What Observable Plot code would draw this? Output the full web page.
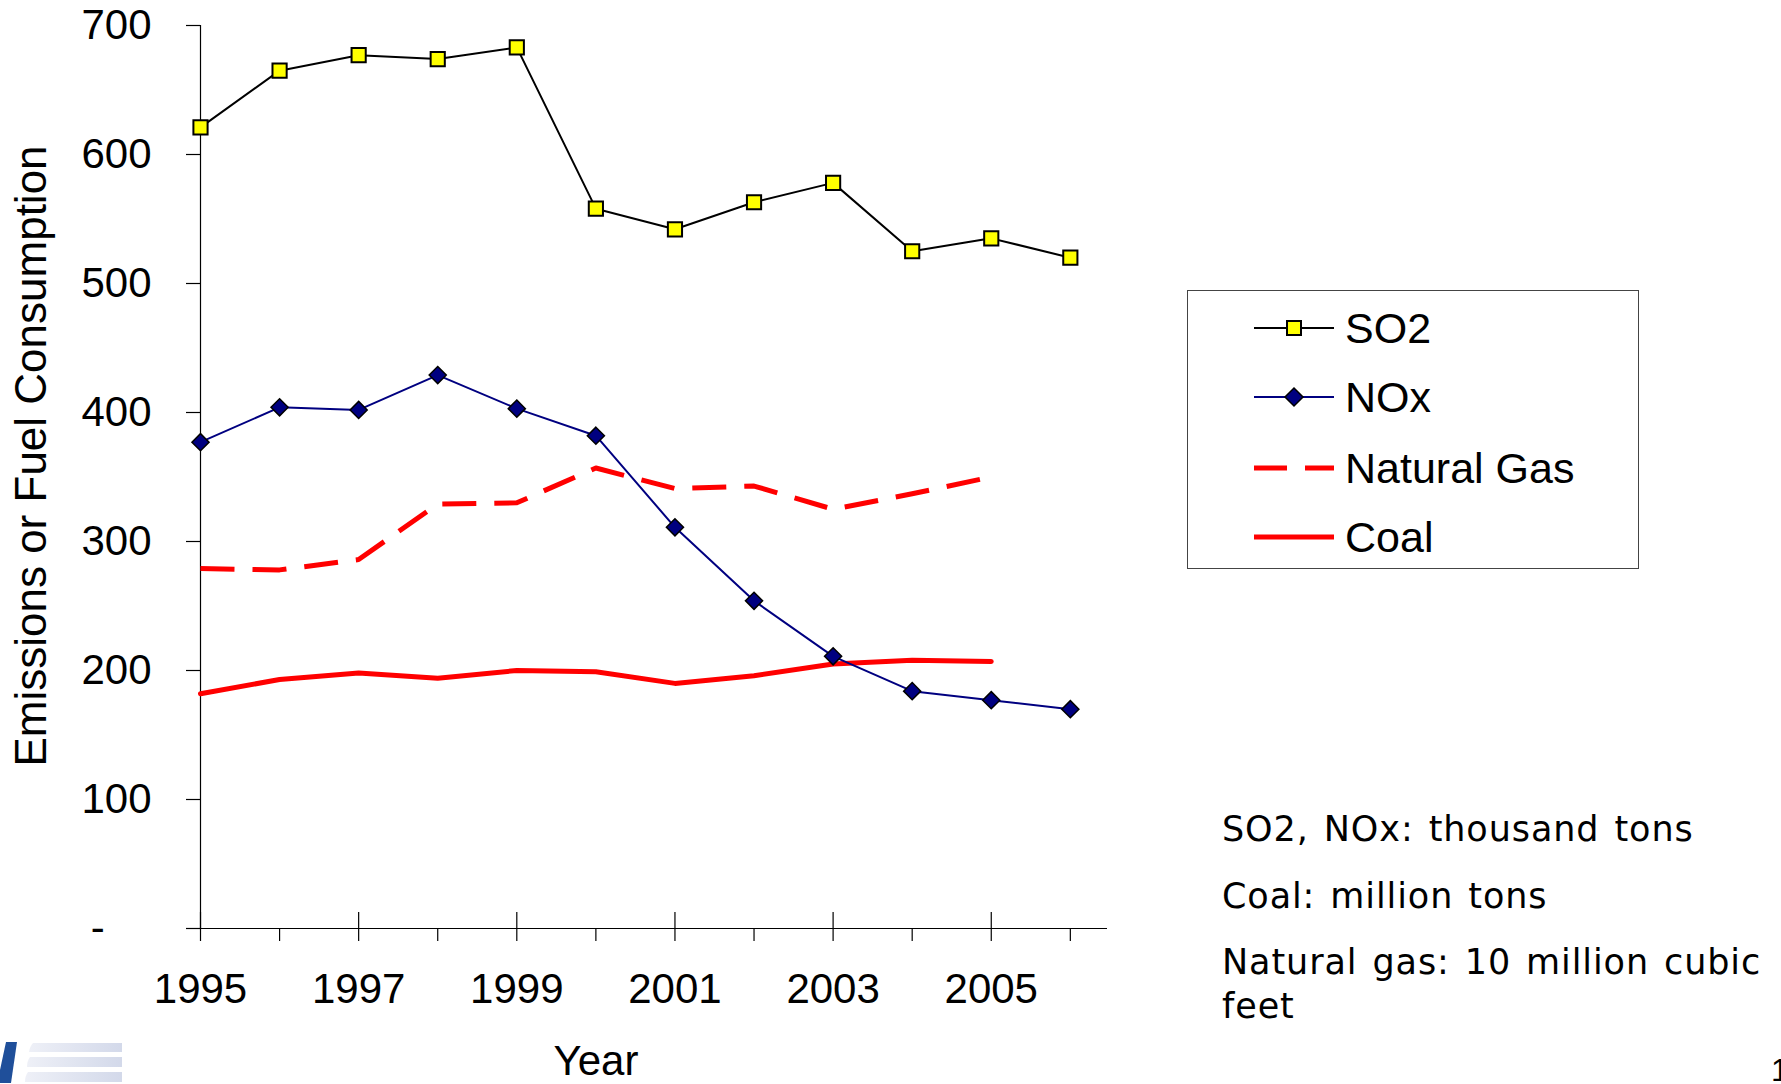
<!DOCTYPE html>
<html>
<head>
<meta charset="utf-8">
<script src="https://cdn.jsdelivr.net/npm/d3@7"></script>
<script src="https://cdn.jsdelivr.net/npm/@observablehq/plot@0.6"></script>
<style>
  html, body { margin: 0; padding: 0; background: #fff; }
  #wrap { position: relative; width: 1781px; height: 1084px; overflow: hidden; background: #fff; font-family: "Liberation Sans", Arial, sans-serif; }
  #chart { position: absolute; left: 0; top: 0; }
  #legend { position: absolute; left: 1187px; top: 290px; width: 452px; height: 279px; box-sizing: border-box; border: 1.5px solid #444; background: #fff; }
  .lg-row { position: absolute; left: 0; height: 50px; display: flex; align-items: center; }
  .lg-row svg { position: absolute; left: 66px; }
  .lg-row span { position: absolute; left: 157px; font-size: 43px; white-space: nowrap; color: #000; line-height: 50px; }
  .note { position: absolute; left: 1222px; font-family: "DejaVu Sans", sans-serif; font-size: 35px; letter-spacing: 0.9px; word-spacing: 3px; line-height: 40px; color: #000; white-space: nowrap; }
  #pagenum { position: absolute; left: 1771px; top: 1052px; font-size: 32px; line-height: 36px; color: #000; }
  #logo { position: absolute; left: 0; top: 1040px; }
</style>
</head>
<body>
<div id="wrap">
  <div id="chart"></div>
  <div id="legend"></div>
  <div id="notes"></div>
  <svg id="logo" width="130" height="44" viewBox="0 0 130 44">
    <defs>
      <linearGradient id="lg" x1="0" x2="1" y1="0" y2="0">
        <stop offset="0" stop-color="#eef0f7"/>
        <stop offset="1" stop-color="#d3d9ea"/>
      </linearGradient>
    </defs>
    <polygon points="6,2 17,2 11,43 0,43 0,30" fill="#1f4f9a"/>
    <path d="M33,3 L122,3 L122,12 L29,12 Q30,6 33,3 Z" fill="url(#lg)"/>
    <path d="M30,17 L122,17 L122,27 L27,27 Q27,21 30,17 Z" fill="url(#lg)"/>
    <path d="M28,32 L122,32 L122,42 L25,42 Q25,36 28,32 Z" fill="url(#lg)"/>
  </svg>
  <div id="pagenum">1</div>
</div>
<script>
// ---- data ----
const years = [1995, 1996, 1997, 1998, 1999, 2000, 2001, 2002, 2003, 2004, 2005, 2006];
const so2 = [621, 665, 677, 674, 683, 558, 542, 563, 578, 525, 535, 520];
const nox = [377, 404, 402, 429, 403, 382, 311, 254, 211, 184, 177, 170];
const gasYears = [1995, 1996, 1997, 1998, 1999, 2000, 2001, 2002, 2003, 2004, 2005];
const naturalGas = [279, 278, 286, 329, 330, 357, 341, 343, 325, 337, 350];
const coal = [182, 193, 198, 194, 200, 199, 190, 196, 205, 208, 207];
const yTicks = [0, 100, 200, 300, 400, 500, 600, 700];
const seriesNames = ["SO2", "NOx", "Natural Gas", "Coal"];
const notes = ["SO2, NOx: thousand tons", "Coal: million tons", "Natural gas: 10 million cubic", "feet"];
const yLabel = "Emissions or Fuel Consumption";
const xLabel = "Year";

// ---- tables ----
const so2Data = years.map((y, i) => ({year: y, value: so2[i]}));
const noxData = years.map((y, i) => ({year: y, value: nox[i]}));
const gasData = gasYears.map((y, i) => ({year: y, value: naturalGas[i]}));
const coalData = gasYears.map((y, i) => ({year: y, value: coal[i]}));
const oddYears = years.filter(y => y % 2 === 1);

const chart = Plot.plot({
  width: 1781,
  height: 1084,
  marginLeft: 200,
  marginRight: 674,
  marginTop: 25,
  marginBottom: 156,
  x: {domain: [1995, 2006.47]},
  y: {domain: [0, 700]},
  style: {fontFamily: "'Liberation Sans', Arial, sans-serif", fontSize: "42px", color: "#000", background: "transparent", overflow: "visible"},
  marks: [
    Plot.ruleY([0], {stroke: "#000", strokeWidth: 1.2}),
    Plot.ruleX([years[0]], {stroke: "#000", strokeWidth: 1.2}),
    Plot.axisY({ticks: yTicks, tickSize: 14, tickPadding: 35, tickFormat: d => d === 0 ? "-\u00a0\u00a0\u00a0\u00a0" : `${d}`, label: null, strokeWidth: 1.2}),
    Plot.axisX({ticks: years, tickSize: 13, tickPadding: 32, tickFormat: d => d % 2 === 1 ? `${d}` : "", label: null, strokeWidth: 1.2}),
    Plot.axisX({ticks: oddYears, tickSize: -16, tickFormat: () => "", label: null, strokeWidth: 1.2}),
    Plot.line(gasData, {x: "year", y: "value", stroke: "#ff0000", strokeWidth: 5, strokeDasharray: "34,18", strokeLinecap: "butt"}),
    Plot.line(coalData, {x: "year", y: "value", stroke: "#ff0000", strokeWidth: 5}),
    Plot.line(noxData, {x: "year", y: "value", stroke: "#000080", strokeWidth: 2}),
    Plot.dot(noxData, {x: "year", y: "value", symbol: "diamond2", r: 7.7, fill: "#000080", stroke: "#000", strokeWidth: 1.5}),
    Plot.line(so2Data, {x: "year", y: "value", stroke: "#000", strokeWidth: 2}),
    Plot.dot(so2Data, {x: "year", y: "value", symbol: "square", r: 8, fill: "#ffff00", stroke: "#000", strokeWidth: 2}),
    Plot.text([yLabel], {frameAnchor: "left", textAnchor: "middle", lineAnchor: "middle", rotate: -90, dx: -169, dy: -21, fontSize: 44}),
    Plot.text([xLabel], {frameAnchor: "bottom", textAnchor: "middle", lineAnchor: "middle", dx: -58, dy: 133, fontSize: 42})
  ]
});
document.getElementById("chart").appendChild(chart);

// ---- legend ----
const legend = document.getElementById("legend");
const rowCenters = [37, 106, 177, 246];
const swatches = [
  `<svg width="80" height="30"><line x1="0" y1="15" x2="80" y2="15" stroke="#000" stroke-width="2"/><rect x="33" y="8" width="14" height="14" fill="#ffff00" stroke="#000" stroke-width="2"/></svg>`,
  `<svg width="80" height="30"><line x1="0" y1="15" x2="80" y2="15" stroke="#000080" stroke-width="2"/><polygon points="40,6 49,15 40,24 31,15" fill="#000080" stroke="#000" stroke-width="1.5"/></svg>`,
  `<svg width="80" height="30"><line x1="0" y1="15" x2="80" y2="15" stroke="#ff0000" stroke-width="5" stroke-dasharray="33,18"/></svg>`,
  `<svg width="80" height="30"><line x1="0" y1="15" x2="80" y2="15" stroke="#ff0000" stroke-width="5"/></svg>`
];
seriesNames.forEach((name, i) => {
  const row = document.createElement("div");
  row.className = "lg-row";
  row.style.top = (rowCenters[i] - 25) + "px";
  row.innerHTML = swatches[i].replace("<svg ", `<svg style="top:10px" `) + `<span>${name}</span>`;
  legend.appendChild(row);
});

// ---- notes ----
const noteTops = [809, 876, 942, 986];
const notesDiv = document.getElementById("notes");
notes.forEach((t, i) => {
  const d = document.createElement("div");
  d.className = "note";
  d.style.top = noteTops[i] + "px";
  d.textContent = t;
  notesDiv.appendChild(d);
});
</script>
</body>
</html>
